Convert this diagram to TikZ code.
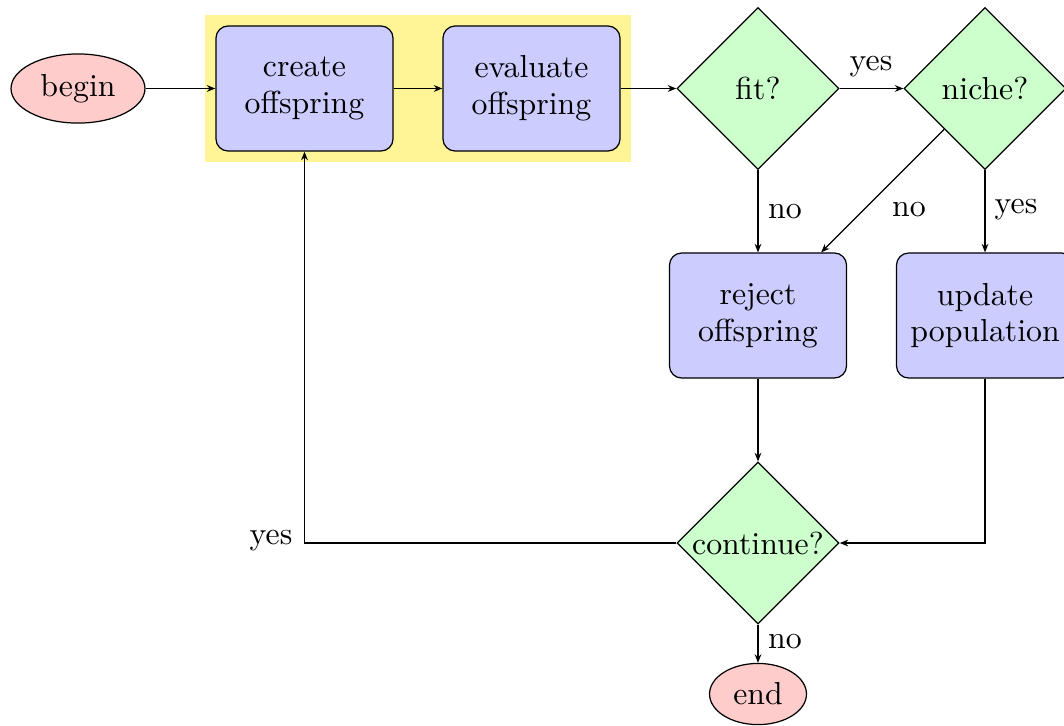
\documentclass[tikz,border=0pt]{standalone}
\usetikzlibrary{shapes.geometric,arrows.meta,fit,backgrounds}
\definecolor{hl}{RGB}{255,245,150}
\tikzset{
  terminal/.style={ellipse, draw, fill=red!20, inner sep=0pt},
  process/.style={rectangle, rounded corners=4pt, draw, fill=blue!20, minimum width=57.9pt, minimum height=40.9pt, align=center, inner sep=0pt},
  decision/.style={diamond, aspect=1, draw, fill=green!20, minimum width=53pt, minimum height=53pt, inner sep=0pt},
  lbl/.style={inner sep=0pt},
  conn/.style={draw, -{Stealth[length=2.8pt,width=2.2pt]}},
}
\begin{document}
\begin{tikzpicture}[x=0.327pt, y=-0.327pt, font=\fontsize{10.4pt}{12pt}\selectfont]
\useasboundingbox (0,0) rectangle (1064,725);
\node[terminal, minimum width=43.8pt, minimum height=22.6pt] (begin) at (78,88.5) {begin};
\node[process] (create) at (304.5,88.5) {create\\offspring};
\node[process] (eval) at (531.5,88.5) {evaluate\\offspring};
\node[decision] (fit) at (758,88.5) {fit?};
\node[decision] (niche) at (985,88.5) {niche?};
\node[process] (reject) at (758,315.5) {reject\\offspring};
\node[process] (update) at (985,315.5) {update\\population};
\node[decision] (cont) at (758,543) {continue?};
\node[terminal, minimum width=31.7pt, minimum height=20pt] (end) at (758,694) {end};
\begin{scope}[on background layer]
\node[fit=(create)(eval), inner sep=3.5pt, fill=hl] (hlbox) {};
\end{scope}
\path[conn] (begin) -- (create);
\path[conn] (create) -- (eval);
\path[conn] (eval) -- (fit);
\path[conn] (fit) -- (niche);
\path[conn] (fit) -- (reject);
\path[conn] (niche.south west) -- (reject);
\path[conn] (niche) -- (update);
\path[conn] (reject) -- (cont);
\path[conn] (update) |- (cont);
\path[conn] (cont) -| (create);
\path[conn] (cont) -- (end);
\node[lbl] (l1) at (871,67) {yes};
\node[lbl] (l2) at (785,212) {no};
\node[lbl] (l3) at (909,210) {no};
\node[lbl] (l4) at (1016,210) {yes};
\node[lbl] (l5) at (271,541) {yes};
\node[lbl] (l6) at (785,642) {no};
\end{tikzpicture}
\end{document}
